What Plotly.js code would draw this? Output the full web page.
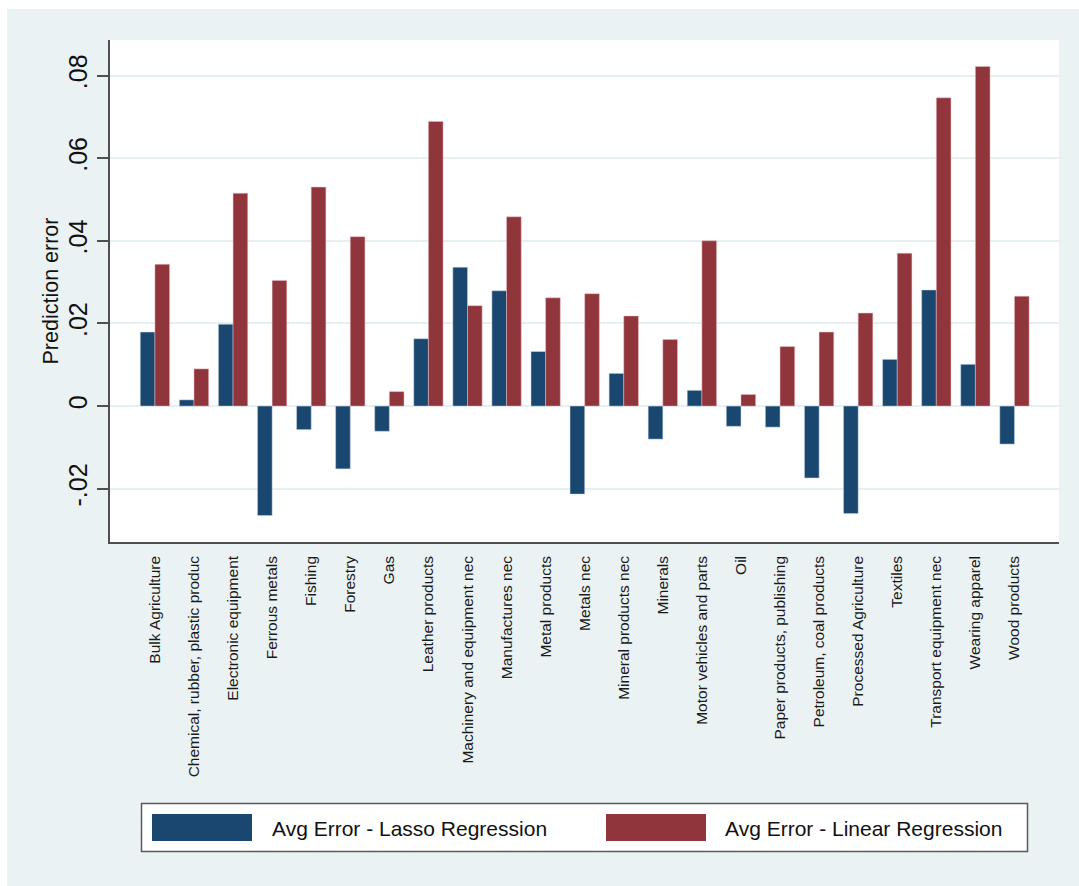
<!DOCTYPE html>
<html>
<head>
<meta charset="utf-8">
<script src="https://cdn.plot.ly/plotly-3.0.1.min.js"></script>
<style>
  html, body { margin: 0; padding: 0; background: #ffffff; }
  #chart { position: absolute; left: 7px; top: 9px; width: 1072px; height: 877px; }
</style>
</head>
<body>
<div id="chart"></div>
<script>
// Sectors, in the order they appear on the x axis
const sectors = [
  'Bulk Agriculture',
  'Chemical, rubber, plastic produc',
  'Electronic equipment',
  'Ferrous metals',
  'Fishing',
  'Forestry',
  'Gas',
  'Leather products',
  'Machinery and equipment nec',
  'Manufactures nec',
  'Metal products',
  'Metals nec',
  'Mineral products nec',
  'Minerals',
  'Motor vehicles and parts',
  'Oil',
  'Paper products, publishing',
  'Petroleum, coal products',
  'Processed Agriculture',
  'Textiles',
  'Transport equipment nec',
  'Wearing apparel',
  'Wood products'
];

// Average prediction error per sector
const lassoError = [
  0.0179, 0.0015, 0.0198, -0.0265, -0.0057, -0.0152, -0.0061, 0.0163,
  0.0336, 0.0279, 0.0132, -0.0213, 0.0079, -0.0080, 0.0038, -0.0049,
  -0.0051, -0.0174, -0.0260, 0.0113, 0.0281, 0.0101, -0.0092
];
const linearError = [
  0.0343, 0.0090, 0.0515, 0.0304, 0.0530, 0.0410, 0.0035, 0.0689,
  0.0243, 0.0458, 0.0262, 0.0272, 0.0218, 0.0161, 0.0400, 0.0028,
  0.0144, 0.0179, 0.0225, 0.0370, 0.0746, 0.0822, 0.0266
];

const seriesNames = ['Avg Error - Lasso Regression', 'Avg Error - Linear Regression'];
const yTickValues = [-0.02, 0, 0.02, 0.04, 0.06, 0.08];
const yTickLabels = ['-.02', '0', '.02', '.04', '.06', '.08'];
const yTitle = 'Prediction error';

// Stata s2color-like palette
const NAVY = '#1a476f';
const MAROON = '#90353b';
const PANEL = '#eaf2f3';
const AXIS = '#4f4f4f';
const FONT = 'Liberation Sans, Arial, Helvetica, sans-serif';

// Plot area in page pixels, used to place the hand-built legend
const plotLeft = 110, plotRight = 1059, plotTop = 40, plotBottom = 542;
const px = x => (x - plotLeft) / (plotRight - plotLeft);
const py = y => (plotBottom - y) / (plotBottom - plotTop);

const traces = [
  {
    type: 'bar', name: seriesNames[0], x: sectors, y: lassoError,
    marker: { color: NAVY, line: { color: 'rgba(200,215,230,0.7)', width: 0.7 } },
    hoverinfo: 'x+y'
  },
  {
    type: 'bar', name: seriesNames[1], x: sectors, y: linearError,
    marker: { color: MAROON, line: { color: 'rgba(235,190,195,0.7)', width: 0.7 } },
    hoverinfo: 'x+y'
  }
];

// Legend: framed box with wide colour swatches
const legendBox = { x0: 141.5, x1: 1027.5, y0: 803.5, y1: 851.5 };
const swatches = [
  { x0: 152, x1: 252, y0: 814, y1: 841, color: NAVY, textX: 270 },
  { x0: 606, x1: 706, y0: 814, y1: 841, color: MAROON, textX: 723 }
];
const legendMidY = 828;

const shapes = [
  {
    type: 'rect', xref: 'paper', yref: 'paper', layer: 'above',
    x0: px(legendBox.x0), x1: px(legendBox.x1),
    y0: py(legendBox.y1), y1: py(legendBox.y0),
    fillcolor: '#ffffff', line: { color: '#5a5a5a', width: 1.5 }
  }
].concat(swatches.map(s => ({
  type: 'rect', xref: 'paper', yref: 'paper', layer: 'above',
  x0: px(s.x0), x1: px(s.x1), y0: py(s.y1), y1: py(s.y0),
  fillcolor: s.color, line: { color: 'rgba(0,0,0,0)', width: 0 }
})));

const annotations = swatches.map((s, i) => ({
  xref: 'paper', yref: 'paper', x: px(s.textX), y: py(legendMidY),
  xanchor: 'left', yanchor: 'middle', showarrow: false,
  text: seriesNames[i], font: { family: FONT, size: 21, color: '#111111' }
}));

const layout = {
  width: 1072, height: 877,
  paper_bgcolor: PANEL, plot_bgcolor: '#ffffff',
  margin: { l: plotLeft - 7, r: 1079 - plotRight, t: plotTop - 9, b: 886 - plotBottom },
  barmode: 'group', bargap: 0.25, bargroupgap: 0,
  showlegend: false,
  font: { family: FONT, color: '#111111' },
  xaxis: {
    type: 'category', range: [-1.15, 23.14],
    showgrid: false, zeroline: false,
    showline: true, linecolor: AXIS, linewidth: 1.5, mirror: false,
    ticks: '', tickangle: -90,
    tickfont: { family: FONT, size: 15.5, color: '#1a1a1a' },
    ticklabelstandoff: 6,
    automargin: false
  },
  yaxis: {
    range: [-0.0329, 0.0886],
    tickmode: 'array', tickvals: yTickValues, ticktext: yTickLabels,
    tickangle: -90,
    tickfont: { family: FONT, size: 25, color: '#111111' },
    ticks: 'outside', ticklen: 11, tickwidth: 1.5, tickcolor: AXIS,
    showline: true, linecolor: AXIS, linewidth: 1.5,
    showgrid: true, gridcolor: '#e6eff1', gridwidth: 2,
    zeroline: false,
    title: { text: yTitle, font: { family: FONT, size: 21.5, color: '#111111' }, standoff: 0 },
    automargin: false
  },
  shapes: shapes,
  annotations: annotations
};

Plotly.newPlot('chart', traces, layout, { displayModeBar: false, responsive: false });
</script>
</body>
</html>
